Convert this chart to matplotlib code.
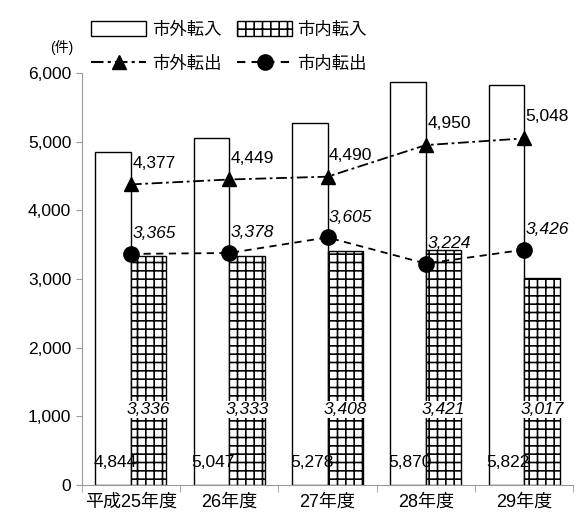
import numpy as np
import matplotlib
matplotlib.use("Agg")
from matplotlib import pyplot as plt
from matplotlib.patches import Patch
from matplotlib.lines import Line2D

plt.rcParams['font.family'] = ['Liberation Sans', 'Noto Sans CJK JP']
plt.rcParams['hatch.linewidth'] = 1.2

years = ["平成25年度", "26年度", "27年度", "28年度", "29年度"]
shigai_tennyu = [4844, 5047, 5278, 5870, 5822]
shinai_tennyu = [3336, 3333, 3408, 3421, 3017]
shigai_tenshutsu = [4377, 4449, 4490, 4950, 5048]
shinai_tenshutsu = [3365, 3378, 3605, 3224, 3426]

fig = plt.figure(figsize=(5.88, 5.18), dpi=100)
ax = fig.add_axes([0.139, 0.064, 0.836, 0.795])

x = np.arange(len(years))
w = 0.36

ax.bar(x - w / 2, shigai_tennyu, width=w, color="white", edgecolor="black", linewidth=1, zorder=2)
ax.bar(x + w / 2, shinai_tennyu, width=w, color="white", edgecolor="black", linewidth=1, hatch="++", zorder=2)

ax.plot(x, shigai_tenshutsu, color="black", linestyle=(0, (6, 2, 1.5, 2)), linewidth=1.3,
        marker="^", markersize=10, zorder=4)
ax.plot(x, shinai_tenshutsu, color="black", linestyle=(0, (4, 3)), linewidth=1.3,
        marker="o", markersize=11, zorder=4)

for i in range(len(years)):
    ax.text(x[i] - w / 2 + 0.02, 330, f"{shigai_tennyu[i]:,}", ha="center", va="center", fontsize=12.5, zorder=5)
    ax.text(x[i] + w / 2, 1100, f"{shinai_tennyu[i]:,}", ha="center", va="center", fontsize=12.5,
            style="italic", zorder=5,
            bbox=dict(facecolor="white", edgecolor="none", pad=0.5))
    ax.annotate(f"{shigai_tenshutsu[i]:,}", (x[i], shigai_tenshutsu[i]), xytext=(1, 10),
                textcoords="offset points", ha="left", va="bottom", fontsize=12.5, zorder=5)
    ax.annotate(f"{shinai_tenshutsu[i]:,}", (x[i], shinai_tenshutsu[i]), xytext=(1, 9),
                textcoords="offset points", ha="left", va="bottom", fontsize=12.5, style="italic", zorder=5)

ax.set_xlim(-0.5, len(years) - 0.5)
ax.set_ylim(0, 6000)
ax.set_yticks(range(0, 6001, 1000))
ax.set_yticklabels([f"{v:,}" for v in range(0, 6001, 1000)], fontsize=12.5)
ax.set_xticks(x)
ax.set_xticklabels(years, fontsize=13)
ax.set_xticks(np.arange(-0.5, len(years)), minor=True)
ax.tick_params(axis="x", which="major", length=0, pad=6)
ax.tick_params(axis="x", which="minor", length=5, color="#999999")
ax.tick_params(axis="y", length=4, color="#999999")

for s in ["top", "right"]:
    ax.spines[s].set_visible(False)
ax.spines["left"].set_color("#999999")
ax.spines["bottom"].set_color("#999999")

fig.text(0.085, 0.9, "(件)", fontsize=10)

handles = [
    Patch(facecolor="white", edgecolor="black", label="市外転入"),
    Line2D([], [], color="black", linestyle=(0, (6, 2, 1.5, 2)), marker="^", markersize=10, label="市外転出"),
    Patch(facecolor="white", edgecolor="black", hatch="++", label="市内転入"),
    Line2D([], [], color="black", linestyle=(0, (4, 3)), marker="o", markersize=11, label="市内転出"),
]
fig.legend(handles=handles, loc="upper left", bbox_to_anchor=(0.128, 0.99), ncol=2, frameon=False,
           fontsize=12.5, handlelength=3.2, handleheight=1.0, handletextpad=0.3, columnspacing=0.9,
           labelspacing=1.0)

fig.savefig("out.png", dpi=100)
